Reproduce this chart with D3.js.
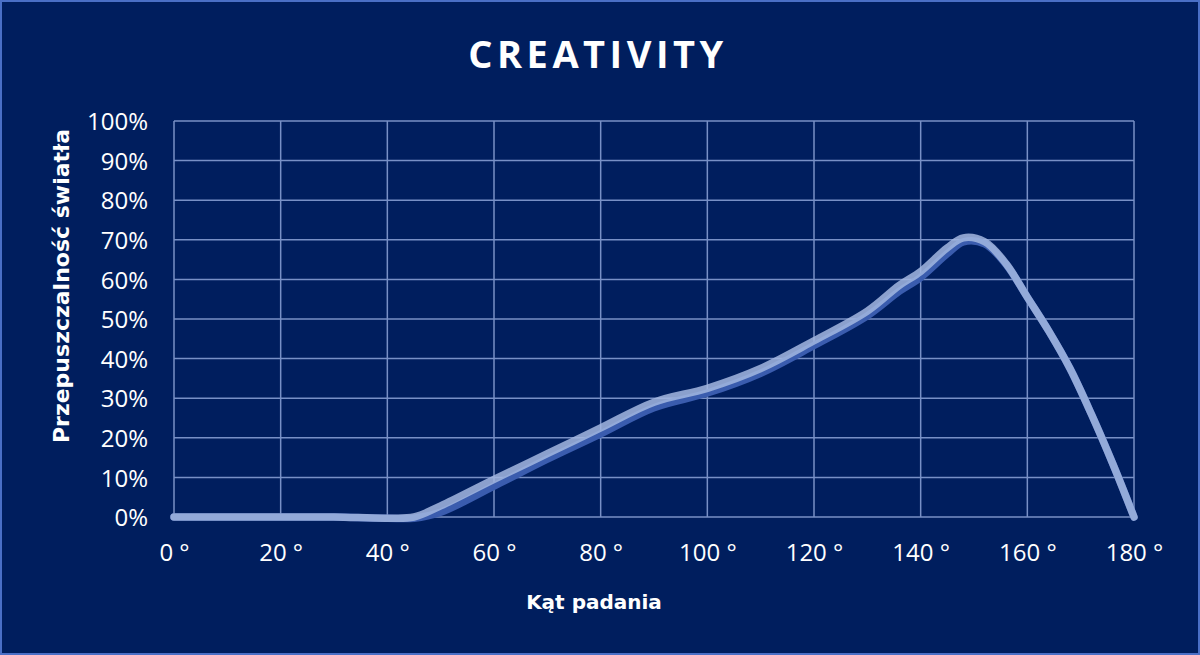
<!DOCTYPE html>
<html>
<head>
<meta charset="utf-8">
<script src="https://d3js.org/d3.v7.min.js"></script>
<style>
  html, body { margin: 0; padding: 0; background: #001e5e; }
  svg { display: block; }
</style>
</head>
<body>
<div id="chart"></div>
<script>
// data
var angles    = [0, 10, 20, 30, 40, 45, 50, 60, 70, 80, 90, 100, 110, 120, 130, 136, 140, 145, 148, 152, 156, 160, 164, 168, 172, 176, 180];
var lightVals = [0, 0, 0, 0, -0.3, 0, 2.8, 9.5, 16, 22.5, 29, 32.5, 37.5, 44.5, 52, 58.5, 62, 68, 70.5, 69.5, 64, 55.5, 47, 37.5, 26, 13.5, 0];
var darkVals  = [0, 0, 0, 0, -0.3, -0.3, 1.2, 7.8, 14.6, 21.0, 27.6, 31.3, 36.3, 43.3, 50.8, 57, 60.5, 66.5, 69.5, 69, 63.8, 55.5, 47, 37.5, 26, 13.5, 0];
var xTicks = [0, 20, 40, 60, 80, 100, 120, 140, 160, 180];
var yTicks = [0, 10, 20, 30, 40, 50, 60, 70, 80, 90, 100];

var W = 1200, H = 655;
var margin = { top: 121, right: 66, bottom: 138, left: 174 },
    width = W - margin.left - margin.right,
    height = H - margin.top - margin.bottom;

var svg = d3.select("#chart").append("svg")
    .attr("width", W)
    .attr("height", H);

svg.append("rect")
    .attr("x", 1).attr("y", 1)
    .attr("width", W - 2).attr("height", H - 2)
    .attr("fill", "#001e5e")
    .attr("stroke", "#4a6fc6")
    .attr("stroke-width", 2);

svg.append("text")
    .attr("x", 598).attr("y", 68)
    .attr("text-anchor", "middle")
    .attr("fill", "#ffffff")
    .style("font-family", "'Open Sans', sans-serif")
    .style("font-weight", "bold")
    .style("font-size", "38px")
    .style("letter-spacing", "4.5px")
    .text("CREATIVITY");

var g = svg.append("g")
    .attr("transform", "translate(" + margin.left + "," + margin.top + ")");

var x = d3.scaleLinear().domain([0, 180]).range([0, width]);
var y = d3.scaleLinear().domain([0, 100]).range([height, 0]);

// grid
g.append("g")
    .selectAll("line.h")
    .data(yTicks)
    .enter().append("line")
    .attr("x1", 0).attr("x2", width)
    .attr("y1", function (d) { return y(d); })
    .attr("y2", function (d) { return y(d); })
    .attr("stroke", "#7890c6")
    .attr("stroke-width", 1.5);

g.append("g")
    .selectAll("line.v")
    .data(xTicks)
    .enter().append("line")
    .attr("x1", function (d) { return x(d); })
    .attr("x2", function (d) { return x(d); })
    .attr("y1", 0).attr("y2", height)
    .attr("stroke", "#7890c6")
    .attr("stroke-width", 1.5);

// axes (labels only)
var yAxis = g.append("g")
    .call(d3.axisLeft(y).tickValues(yTicks).tickSize(0).tickPadding(26)
        .tickFormat(function (d) { return d + "%"; }));
var xAxis = g.append("g")
    .attr("transform", "translate(0," + height + ")")
    .call(d3.axisBottom(x).tickValues(xTicks).tickSize(0).tickPadding(27)
        .tickFormat(function (d) { return d + " °"; }));

[xAxis, yAxis].forEach(function (a) {
    a.select(".domain").remove();
    a.selectAll("text")
        .attr("fill", "#ffffff")
        .style("font-family", "'Open Sans', sans-serif")
        .style("font-size", "24px");
});
yAxis.selectAll("text").attr("dy", "0.36em");
xAxis.selectAll("text").attr("dy", "0.72em");

// series
var line = d3.line()
    .x(function (d) { return x(d[0]); })
    .y(function (d) { return y(d[1]); })
    .curve(d3.curveCatmullRom.alpha(0.5));

g.append("path")
    .datum(d3.zip(angles, darkVals))
    .attr("d", line)
    .attr("fill", "none")
    .attr("stroke", "#3a5cae")
    .attr("stroke-width", 7.5)
    .attr("stroke-linecap", "round");

g.append("path")
    .datum(d3.zip(angles, lightVals))
    .attr("d", line)
    .attr("fill", "none")
    .attr("stroke", "#a3b7e0")
    .attr("stroke-opacity", 0.85)
    .attr("stroke-width", 7.5)
    .attr("stroke-linecap", "round");

// axis titles
svg.append("text")
    .attr("x", 594).attr("y", 609)
    .attr("text-anchor", "middle")
    .attr("fill", "#ffffff")
    .style("font-family", "'DejaVu Sans', Verdana, sans-serif")
    .style("font-weight", "bold")
    .style("font-size", "20px")
    .text("Kąt padania");

svg.append("text")
    .attr("transform", "translate(69,286) rotate(-90)")
    .attr("text-anchor", "middle")
    .attr("fill", "#ffffff")
    .style("font-family", "'DejaVu Sans', Verdana, sans-serif")
    .style("font-weight", "bold")
    .style("font-size", "22px")
    .text("Przepuszczalność światła");
</script>
</body>
</html>
